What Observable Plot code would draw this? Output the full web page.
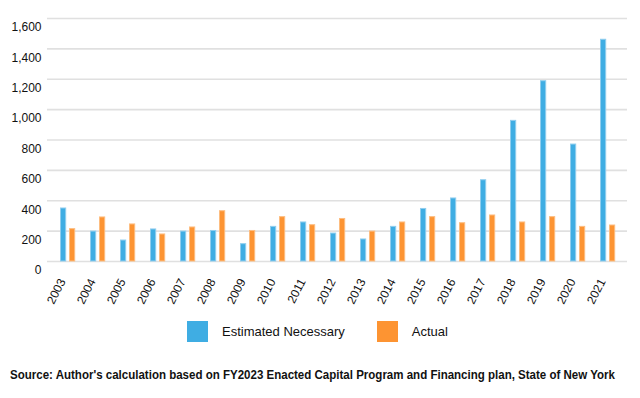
<!DOCTYPE html>
<html>
<head>
<meta charset="utf-8">
<script src="https://cdn.jsdelivr.net/npm/d3@7"></script>
<script src="https://cdn.jsdelivr.net/npm/@observablehq/plot@0.6"></script>
<style>
  html, body { margin: 0; padding: 0; background: #fff; }
  body { width: 640px; height: 398px; overflow: hidden; font-family: "Liberation Sans", Arial, sans-serif; color: #111; }
  #chart svg { display: block; }
  .legend { display: flex; align-items: center; margin-top: 11px; padding-left: 187px; font-size: 13px; height: 21px; }
  .legend .sw { width: 21px; height: 21px; display: inline-block; }
  .legend .lab { margin-left: 14px; margin-right: 32px; }
  .source { margin-top: 26px; padding-left: 10px; font-size: 12px; font-weight: bold; white-space: nowrap; }
  .source span { display: inline-block; transform-origin: left center; }
</style>
</head>
<body>
<div id="chart"></div>
<div class="legend" id="legend"></div>
<div class="source"><span id="src">Source: Author's calculation based on FY2023 Enacted Capital Program and Financing plan, State of New York</span></div>
<script>
const years = ["2003","2004","2005","2006","2007","2008","2009","2010","2011","2012","2013","2014","2015","2016","2017","2018","2019","2020","2021"];
const estimated = [349,197,138,211,197,201,114,228,257,184,145,228,346,415,535,926,1187,770,1460];
const actual = [213,290,244,178,224,331,201,292,239,280,197,257,292,252,303,257,292,228,237];
const seriesNames = ["Estimated Necessary","Actual"];
const seriesColors = ["#3fade3","#fd9432"];
const seriesEdges = ["#8fcdee","#fdbd80"];
const yTicks = [0,200,400,600,800,1000,1200,1400,1600];

const estData = years.map((y, i) => ({year: y, value: estimated[i]}));
const actData = years.map((y, i) => ({year: y, value: actual[i]}));

const chart = Plot.plot({
  width: 640,
  height: 310,
  marginLeft: 47,
  marginRight: 13,
  marginTop: 18,
  marginBottom: 49,
  style: {fontFamily: "'Liberation Sans', Arial, sans-serif", fontSize: "12px", color: "#111", background: "#fff"},
  x: {domain: years, padding: 0, label: null},
  y: {domain: [0, 1600], label: null},
  marks: [
    Plot.gridY(yTicks, {stroke: "#e0e0e0", strokeOpacity: 1, strokeWidth: 1.6}),
    Plot.barY(estData, {x: "year", y: "value", fill: seriesColors[0], stroke: seriesEdges[0], strokeWidth: 1, insetLeft: 8.5, insetRight: 16.3}),
    Plot.barY(actData, {x: "year", y: "value", fill: seriesColors[1], stroke: seriesEdges[1], strokeWidth: 1, insetLeft: 17.5, insetRight: 7.3}),
    Plot.axisY(yTicks, {tickSize: 0, tickPadding: 6, dy: 9, tickFormat: d3.format(","), fontSize: 12, label: null}),
    Plot.axisX({tickRotate: -63, tickSize: 0, tickPadding: 18, dx: -5, fontSize: 12, label: null})
  ]
});
document.getElementById("chart").appendChild(chart);

const legend = document.getElementById("legend");
seriesNames.forEach((name, i) => {
  const sw = document.createElement("span");
  sw.className = "sw";
  sw.style.background = seriesColors[i];
  const lab = document.createElement("span");
  lab.className = "lab";
  lab.textContent = name;
  legend.appendChild(sw);
  legend.appendChild(lab);
});

const src = document.getElementById("src");
const w = src.getBoundingClientRect().width;
if (w > 0) src.style.transform = `scaleX(${605 / w})`;
</script>
</body>
</html>
